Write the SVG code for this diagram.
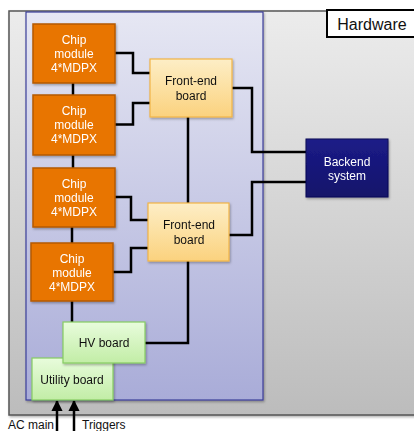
<svg xmlns="http://www.w3.org/2000/svg" width="414" height="431" viewBox="0 0 414 431">
<defs>
<linearGradient id="gOuter" x1="0" y1="0" x2="0" y2="1"><stop offset="0" stop-color="#ececec"/><stop offset="1" stop-color="#bcbcbc"/></linearGradient>
<linearGradient id="gInner" x1="0" y1="0" x2="0" y2="1"><stop offset="0" stop-color="#e6e7f3"/><stop offset="1" stop-color="#a9acd8"/></linearGradient>
<linearGradient id="gFe" x1="0" y1="0" x2="0" y2="1"><stop offset="0" stop-color="#fdeec6"/><stop offset="1" stop-color="#fbd27e"/></linearGradient>
<linearGradient id="gGreen" x1="0" y1="0" x2="0" y2="1"><stop offset="0" stop-color="#e8fcdc"/><stop offset="1" stop-color="#c2eda6"/></linearGradient>
<linearGradient id="gBack" x1="0" y1="0" x2="0" y2="1"><stop offset="0" stop-color="#1c1c88"/><stop offset="1" stop-color="#12126a"/></linearGradient>
<filter id="sh" x="-10%" y="-10%" width="130%" height="130%"><feDropShadow dx="1" dy="1.5" stdDeviation="1" flood-color="#000" flood-opacity="0.3"/></filter>
<marker id="arr" viewBox="0 0 10 10" refX="9" refY="5" markerWidth="4.5" markerHeight="4.5" orient="auto"><path d="M0,0 L10,5 L0,10 z" fill="#000"/></marker>
</defs>
<style>
text{font-family:"Liberation Sans",Arial,sans-serif;font-size:12px;text-anchor:middle;fill:#111}
.chip rect{fill:#e87400;stroke:#b55a00;stroke-width:1.5}
.chip text{fill:#fff}
.fe rect{fill:url(#gFe);stroke:#f2b446;stroke-width:1.2}
.gr rect{fill:url(#gGreen);stroke:#86cc62;stroke-width:1.2}
.conn path{fill:none;stroke:#000;stroke-width:2.5}
</style>
<rect x="9" y="11" width="410" height="404" fill="url(#gOuter)" stroke="#555" stroke-width="1.5" filter="url(#sh)"/>
<rect x="26" y="12" width="237" height="388" fill="url(#gInner)" stroke="#3b3f9a" stroke-width="1.2" filter="url(#sh)"/>
<g id="hardware"><rect x="327" y="10" width="90" height="27" fill="#fff" stroke="#000" stroke-width="2"/><text x="372" y="30" style="font-size:16px">Hardware</text></g>
<g class="conn" id="connectors">
<path d="M73,83V95M73,155V168M72,227V243M72,301V322"/>
<path d="M115,53H133V73H150M115,124.5H133V103H150"/>
<path d="M115,197H131V220H148M113,272H131V248H148"/>
<path d="M188,117V203M188,261V343H145"/>
<path d="M232,88H252V152H306M229,235H252V182H306"/>
<path d="M57,431V401" stroke-width="2" marker-end="url(#arr)"/>
<path d="M74,431V401" stroke-width="2" marker-end="url(#arr)"/>
</g>
<g class="chip" id="chip1" filter="url(#sh)"><rect x="33" y="24" width="82" height="59"/><text x="74" y="44">Chip</text><text x="74" y="58">module</text><text x="74" y="72">4*MDPX</text></g>
<g class="chip" id="chip2" filter="url(#sh)"><rect x="33" y="95" width="82" height="60"/><text x="74" y="115">Chip</text><text x="74" y="129">module</text><text x="74" y="143">4*MDPX</text></g>
<g class="chip" id="chip3" filter="url(#sh)"><rect x="33" y="168" width="82" height="59"/><text x="74" y="188">Chip</text><text x="74" y="202">module</text><text x="74" y="216">4*MDPX</text></g>
<g class="chip" id="chip4" filter="url(#sh)"><rect x="31" y="243" width="82" height="58"/><text x="72" y="263">Chip</text><text x="72" y="277">module</text><text x="72" y="291">4*MDPX</text></g>
<g class="fe" id="fe1" filter="url(#sh)"><rect x="150" y="59" width="82" height="58"/><text x="191" y="85">Front-end</text><text x="191" y="100">board</text></g>
<g class="fe" id="fe2" filter="url(#sh)"><rect x="148" y="203" width="81" height="58"/><text x="189" y="229">Front-end</text><text x="189" y="244">board</text></g>
<g id="backend" filter="url(#sh)"><rect x="306" y="139" width="82" height="58" fill="url(#gBack)" stroke="#0c0c55" stroke-width="1"/><text x="347" y="166" style="fill:#fff">Backend</text><text x="347" y="180" style="fill:#fff">system</text></g>
<g class="gr" id="utility" filter="url(#sh)"><rect x="32" y="358" width="81" height="42"/><text x="72" y="384">Utility board</text></g>
<g class="gr" id="hv" filter="url(#sh)"><rect x="63" y="322" width="82" height="41"/><text x="104" y="347">HV board</text></g>
<text x="8" y="429" style="text-anchor:start">AC main</text>
<text x="82" y="429" style="text-anchor:start">Triggers</text>
</svg>
